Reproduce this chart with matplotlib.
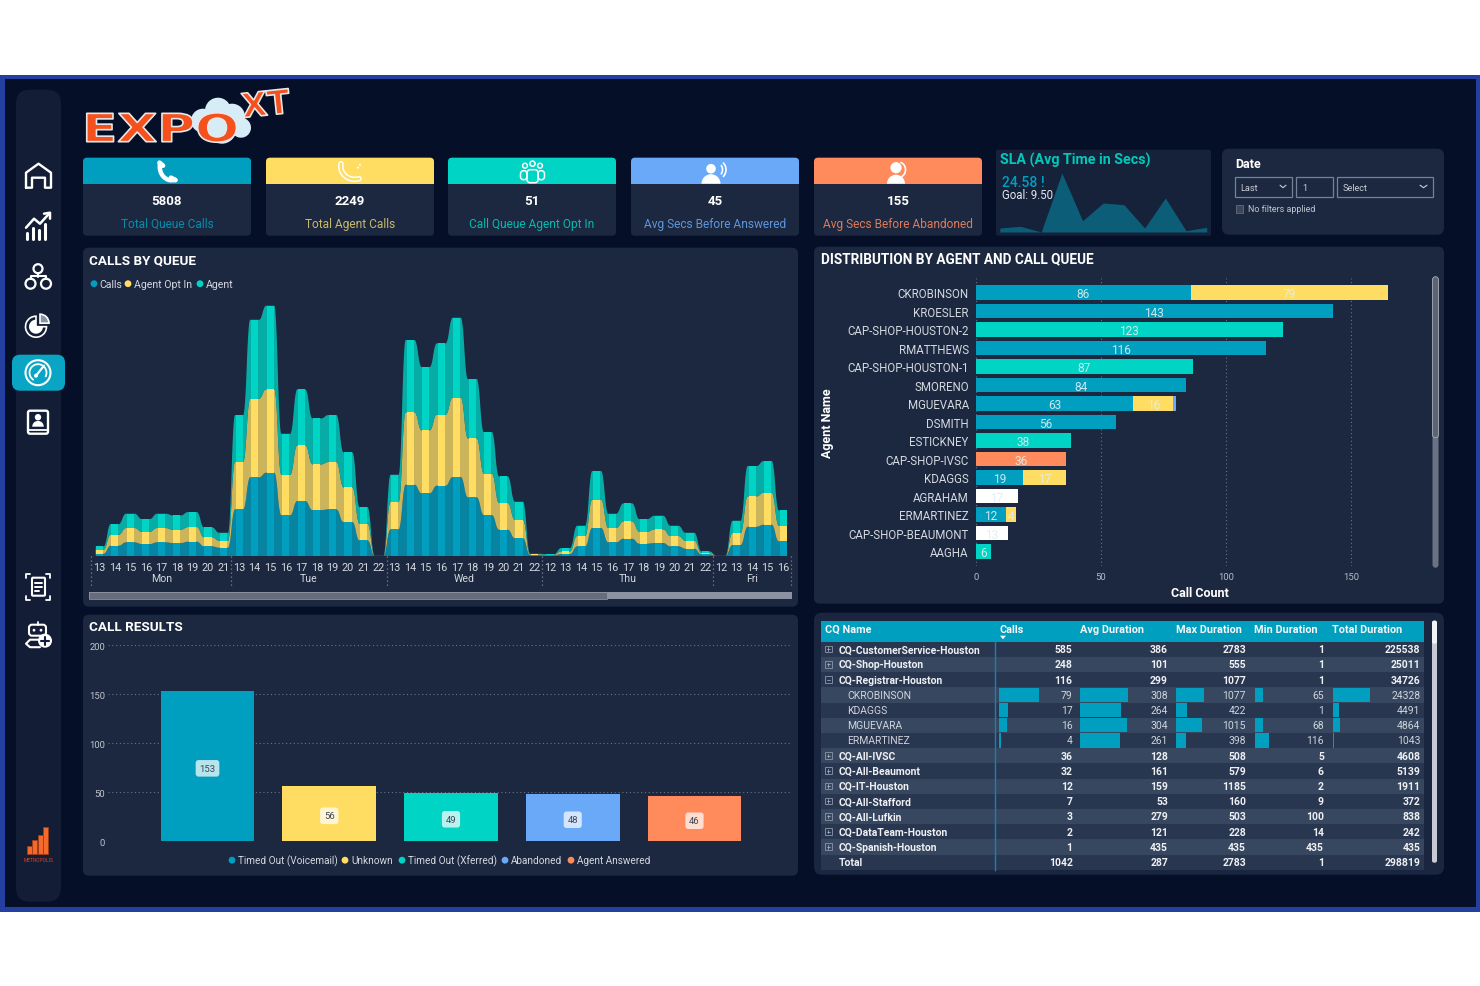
#!/usr/bin/env python3
"""Call centre dashboard: KPI cards, queue volume, agent distribution, results and queue table."""

import numpy as np
import matplotlib
matplotlib.use("Agg")
import matplotlib.pyplot as plt
import matplotlib.patheffects as pe
from matplotlib.patches import Circle, FancyBboxPatch, PathPatch, Polygon, Rectangle, Wedge, Arc
from matplotlib.path import Path
from matplotlib.transforms import Affine2D, blended_transform_factory

W, H = 1480, 987
Y_NUDGE = 0.7
FONT = "Roboto"

BLUE = "#019fbf"
YELLOW = "#ffdd63"
TEAL = "#00d4c4"
PERI = "#69a9f8"
ORANGE = "#ff8a5c"
NAVY = "#050f28"
PANEL = "#1c2840"
SIDEBAR = "#131d35"
TEXT = "#d4d9e0"

# KPI cards
kpi_values = ["5808", "2249", "51", "45", "155"]
kpi_labels = ["Total Queue Calls", "Total Agent Calls", "Call Queue Agent Opt In",
              "Avg Secs Before Answered", "Avg Secs Before Abandoned"]
kpi_colors = [BLUE, YELLOW, TEAL, PERI, ORANGE]
kpi_left = [83, 266, 448, 631, 814]

# SLA sparkline
sla_values = [4, 5.7, 0, 59, 11.3, 29, 27.3, 4, 34, 1.3, 4.7]

# Calls by queue, one entry per hour
day_names = ["Mon", "Tue", "Wed", "Thu", "Fri"]
day_hours = [[13, 14, 15, 16, 17, 18, 19, 20, 21],
             [13, 14, 15, 16, 17, 18, 19, 20, 21, 22],
             [13, 14, 15, 16, 17, 18, 19, 20, 21, 22],
             [12, 13, 14, 15, 16, 17, 18, 19, 20, 21, 22],
             [12, 13, 14, 15, 16]]
queue_calls = [8, 32, 42, 37, 42, 40, 44, 30, 26,
               141, 237, 251, 123, 166, 139, 141, 103, 48, 2,
               81, 215, 189, 212, 238, 177, 124, 80, 54, 4,
               3, 7, 30, 85, 42, 53, 38, 40, 30, 23, 6,
               2, 34, 89, 95, 45]
queue_opt_in = [12, 33, 43, 37, 43, 40, 44, 27, 21,
                142, 236, 250, 122, 167, 137, 142, 104, 50, 0,
                82, 217, 189, 213, 238, 177, 124, 80, 55, 2,
                2, 8, 31, 85, 43, 52, 36, 41, 31, 24, 4,
                0, 36, 91, 96, 47]
queue_agent = [10, 32, 43, 38, 43, 43, 45, 30, 24,
               141, 237, 251, 123, 168, 138, 141, 105, 50, 0,
               82, 217, 190, 214, 240, 178, 125, 80, 55, 2,
               2, 10, 31, 86, 43, 54, 38, 41, 31, 24, 5,
               0, 37, 91, 95, 46]

# Distribution by agent and call queue
agents = ["CKROBINSON", "KROESLER", "CAP-SHOP-HOUSTON-2", "RMATTHEWS", "CAP-SHOP-HOUSTON-1",
          "SMORENO", "MGUEVARA", "DSMITH", "ESTICKNEY", "CAP-SHOP-IVSC", "KDAGGS", "AGRAHAM",
          "ERMARTINEZ", "CAP-SHOP-BEAUMONT", "AAGHA"]
agent_blue = [86, 143, 0, 116, 0, 84, 63, 56, 0, 0, 19, 0, 12, 0, 0]
agent_yellow = [79, 0, 0, 0, 0, 0, 16, 0, 0, 0, 17, 0, 4, 0, 0]
agent_peri = [0, 0, 0, 0, 0, 0, 1, 0, 0, 0, 0, 0, 0, 0, 0]
agent_teal = [0, 0, 123, 0, 87, 0, 0, 0, 38, 0, 0, 0, 0, 0, 6]
agent_orange = [0, 0, 0, 0, 0, 0, 0, 0, 0, 36, 0, 0, 0, 0, 0]
agent_white = [0, 0, 0, 0, 0, 0, 0, 0, 0, 0, 0, 17, 0, 13, 0]

# Call results
result_names = ["Timed Out (Voicemail)", "Unknown", "Timed Out (Xferred)", "Abandoned", "Agent Answered"]
result_values = [153, 56, 49, 48, 46]
result_colors = [BLUE, YELLOW, TEAL, PERI, ORANGE]

# Queue table
table_headers = ["Calls", "Avg Duration", "Max Duration", "Min Duration", "Total Duration"]
table_names = ["CQ-CustomerService-Houston", "CQ-Shop-Houston", "CQ-Registrar-Houston", "CKROBINSON", "KDAGGS",
               "MGUEVARA", "ERMARTINEZ", "CQ-All-IVSC", "CQ-All-Beaumont", "CQ-IT-Houston", "CQ-All-Stafford",
               "CQ-All-Lufkin", "CQ-DataTeam-Houston", "CQ-Spanish-Houston", "Total"]
table_calls = [585, 248, 116, 79, 17, 16, 4, 36, 32, 12, 7, 3, 2, 1, 1042]
table_avg = [386, 101, 299, 308, 264, 304, 261, 128, 161, 159, 53, 279, 121, 435, 287]
table_max = [2783, 555, 1077, 1077, 422, 1015, 398, 508, 579, 1185, 160, 503, 228, 435, 2783]
table_min = [1, 1, 1, 65, 1, 68, 116, 5, 6, 2, 9, 100, 14, 435, 1]
table_total = [225538, 25011, 34726, 24328, 4491, 4864, 1043, 4608, 5139, 1911, 372, 838, 242, 435, 298819]

fig = plt.figure(figsize=(W / 100, H / 100), dpi=100, facecolor="white")
plt.rcParams["font.family"] = [FONT, "DejaVu Sans"]


def px_axes(x0, y0, x1, y1, zorder=2):
    ax = fig.add_axes([x0 / W, 1 - (y1 + Y_NUDGE) / H, (x1 - x0) / W, (y1 - y0) / H], zorder=zorder)
    ax.patch.set_alpha(0)
    for side in ax.spines.values():
        side.set_visible(False)
    return ax


bg = px_axes(0, 0, W, H, zorder=0)
bg.set_xlim(0, W)
bg.set_ylim(H, 0)
bg.axis("off")


def box(x0, y0, x1, y1, color, r=6, ec="none", lw=0, z=1):
    bg.add_patch(FancyBboxPatch((x0, y0), x1 - x0, y1 - y0, boxstyle=f"round,pad=0,rounding_size={r}",
                                fc=color, ec=ec, lw=lw, zorder=z))


def label(x, y, s, size=8, color=TEXT, ha="left", weight="normal", z=5, **kw):
    return bg.text(x, y, s, fontsize=size, color=color, ha=ha, va="center", fontweight=weight, zorder=z, **kw)


def stroke(points, lw=1.4, color="white", z=4):
    pts = np.array(points, dtype=float)
    bg.plot(pts[:, 0], pts[:, 1], color=color, lw=lw, zorder=z, solid_capstyle="round", solid_joinstyle="round")


def ring(x, y, r, lw=1.4, color="white", z=4):
    bg.add_patch(Circle((x, y), r, fc="none", ec=color, lw=lw, zorder=z))


def dot(x, y, r, color="white", z=4):
    bg.add_patch(Circle((x, y), r, fc=color, ec="none", zorder=z))


class WideText(pe.AbstractPathEffect):
    """Stretches a text horizontally and gives it a pale outline, for the wordmark."""

    def __init__(self, sx, edge="#e8e8e8", lw=1.2):
        super().__init__()
        self.sx, self.edge, self.lw = sx, edge, lw

    def draw_path(self, renderer, gc, tpath, affine, rgbFace=None):
        x0 = affine.get_matrix()[0, 2]
        wide = affine + Affine2D().translate(-x0, 0).scale(self.sx, 1).translate(x0, 0)
        outline = renderer.new_gc()
        outline.copy_properties(gc)
        outline.set_linewidth(self.lw)
        outline.set_foreground(self.edge)
        renderer.draw_path(outline, tpath, wide, rgbFace)
        outline.restore()


# page frame
bg.add_patch(Rectangle((0, 75), W, 837, fc="#2340a0", ec="none", zorder=0))
bg.add_patch(Rectangle((5, 79.5), W - 9, 828, fc=NAVY, ec="none", zorder=0.5))

# sidebar
box(16, 90, 61, 902, SIDEBAR, r=14)
box(12, 355, 65, 391, "#0aa5c5", r=8, z=2)

# home
stroke([(26, 188), (26, 173), (38.5, 164), (51, 173), (51, 188), (45, 188), (45, 178),
        (32, 178), (32, 188), (26, 188)], lw=1.7)
# trend
for x, h in zip((27, 33, 39, 45), (6, 11, 9, 15)):
    stroke([(x, 239), (x, 239 - h)], lw=2.2)
stroke([(26, 228), (34, 219), (40, 224), (49, 214)], lw=1.8)
stroke([(44, 214), (50, 213), (50, 219)], lw=1.8)
# org tree
ring(38, 269, 4.5, 1.6)
ring(30.5, 284, 5, 1.6)
ring(46, 284, 5, 1.6)
stroke([(38, 273.5), (38, 277)], 1.5)
stroke([(30.5, 279), (30.5, 276.5), (46, 276.5), (46, 279)], 1.5)
# pie
bg.add_patch(Wedge((36, 327), 10.5, 0, 270, fc="none", ec="white", lw=1.2, zorder=4))
bg.add_patch(Wedge((36, 327), 7, 0, 270, fc="white", ec="none", zorder=4))
bg.add_patch(Wedge((40, 323.5), 9, -90, 0, fc="#8a92a4", ec="white", lw=1.2, zorder=4))
# gauge
ring(38, 373, 12.5, 1.5)
bg.add_patch(Arc((38, 373), 17, 17, theta1=120, theta2=30, ec="white", lw=1.3, zorder=4))
stroke([(36, 376), (44, 366)], 1.6)
dot(36, 376, 2)
# contact book
box(28, 411, 48, 434, "none", r=2, ec="white", lw=1.7, z=4)
stroke([(28, 430), (48, 430)], 1.3)
dot(38, 417.5, 3.2)
bg.add_patch(Wedge((38, 427), 5.8, 180, 360, fc="white", ec="none", zorder=4))
# document scan
box(32, 578, 45, 596, "none", r=1, ec="white", lw=1.5, z=4)
stroke([(35, 583), (42, 583)], 1.4)
stroke([(35, 587), (42, 587)], 1.4)
stroke([(35, 591), (39, 591)], 1.4)
for cx, sx in ((26, 1), (50, -1)):
    stroke([(cx + 4 * sx, 574), (cx, 574), (cx, 578)], 1.3)
    stroke([(cx + 4 * sx, 600), (cx, 600), (cx, 596)], 1.3)
# robot
box(29, 625, 46, 636, "none", r=3, ec="white", lw=1.5, z=4)
dot(34, 630.5, 1.4)
dot(41, 630.5, 1.4)
stroke([(37.5, 622), (37.5, 625)], 1.3)
stroke([(42, 640), (30, 640), (26, 644), (30, 647.5), (40, 647.5)], 1.5)
dot(45, 641, 7)
stroke([(41, 641), (49, 641)], 1.5, color=SIDEBAR, z=4.5)
stroke([(45, 637), (45, 645)], 1.5, color=SIDEBAR, z=4.5)
# metropolis mark
for x, top in zip((26.5, 32, 37.5, 43), (846, 840, 835, 827)):
    bg.add_patch(Rectangle((x, top), 5, 854 - top, fc="#f4692c", ec="#a23c16", lw=0.6, zorder=4))
label(38.5, 859.5, "METROPOLIS", size=3.6, color="#d8452a", ha="center")

# wordmark
for (cx, cy, r) in ((203, 121, 12), (218, 111, 13), (232, 117, 13), (241, 128, 10), (222, 130, 14)):
    bg.add_patch(Circle((cx, cy), r, fc="#d6ecf6", ec="none", zorder=2))
bg.text(82, 142, "EXPO", fontsize=28, color="#f4511e", fontweight="bold", family="DejaVu Sans", va="baseline", zorder=3,
        path_effects=[WideText(1.33)])
bg.text(240, 118, "XT", fontsize=24, color="#f4511e", fontweight="bold", family="DejaVu Sans", va="baseline", zorder=3,
        rotation=6, path_effects=[WideText(1.0)])

# KPI cards
for x, value, name, color in zip(kpi_left, kpi_values, kpi_labels, kpi_colors):
    box(x, 158, x + 168, 236, PANEL, r=4)
    box(x, 158, x + 168, 184, color, r=4, z=1.5)
    bg.add_patch(Rectangle((x, 170), 168, 14, fc=color, ec="none", zorder=1.6))
    label(x + 84, 201, value, size=9.5, color="white", ha="center", weight="bold")
    label(x + 84, 223.5, name, size=8.6, color=color if color != YELLOW else "#e8d26e", ha="center", alpha=0.85)

# KPI icons
handset = Path([(160, 164), (158, 175), (167, 183), (175, 180)],
               [Path.MOVETO, Path.CURVE4, Path.CURVE4, Path.CURVE4])
bg.add_patch(PathPatch(handset, fc="none", ec="white", lw=3.2, zorder=4, capstyle="round"))
stroke([(159.5, 163), (163, 166)], 3.4)
stroke([(171, 178), (175.5, 180.5)], 3.4)
handset2 = Path([(341, 164), (339, 174), (349, 182), (359, 179)],
                [Path.MOVETO, Path.CURVE4, Path.CURVE4, Path.CURVE4])
bg.add_patch(PathPatch(handset2, fc="none", ec="white", lw=4, zorder=4, capstyle="round"))
bg.add_patch(PathPatch(handset2, fc="none", ec=YELLOW, lw=1.8, zorder=4.1, capstyle="round"))
dot(358, 168, 1)
dot(360, 165, 1)
for cx, cy, r in ((525, 166, 2.4), (532.5, 164, 2.6), (540, 166, 2.4)):
    ring(cx, cy, r, 1.1)
box(520.5, 171, 527, 180, "none", r=3, ec="white", lw=1.1, z=4)
box(527, 170, 538, 183, "none", r=3, ec="white", lw=1.1, z=4)
box(538, 171, 544.5, 180, "none", r=3, ec="white", lw=1.1, z=4)
dot(711, 169, 4.8)
bg.add_patch(Wedge((711, 184), 9.5, 180, 360, fc="white", ec="none", zorder=4))
bg.add_patch(Arc((717, 170), 11, 13, theta1=-50, theta2=50, ec="white", lw=1.2, zorder=4))
bg.add_patch(Arc((717, 170), 18, 19, theta1=-50, theta2=50, ec="white", lw=1.2, zorder=4))
dot(896, 168, 5.6)
bg.add_patch(Wedge((896, 184), 9, 180, 360, fc="white", ec="none", zorder=4))
bg.add_patch(Arc((899, 170), 13, 15, theta1=-80, theta2=70, ec="white", lw=1.2, zorder=4))

# SLA tile
box(996, 150, 1211, 236, "#16223a", r=2)
sla_ax = px_axes(999.8, 160, 1206.7, 232.3, zorder=2)
sla_ax.fill_between(range(len(sla_values)), sla_values, color="#0b5d78", lw=0)
sla_ax.set_xlim(0, len(sla_values) - 1)
sla_ax.set_ylim(0, 72.3)
sla_ax.axis("off")
label(999.5, 160, "SLA (Avg Time in Secs)", size=10.3, color="#00c9bb", weight="bold")
for x, y, s, size, color, weight in ((1002, 182, "24.58 !", 10, BLUE, "medium"), (1002, 194.5, "Goal: 9.50", 8.3, "#e4e6ea", "normal")):
    sla_ax.text(x, y, s, transform=bg.transData, fontsize=size, color=color, fontweight=weight, va="center", zorder=5)

# date slicer
box(1222, 149, 1444, 235, PANEL, r=7)
label(1235, 164, "Date", size=9, color="white", weight="bold")
for x0, x1, name in ((1234.5, 1291.5, "Last"), (1296, 1333, "1"), (1337, 1432.5, "Select")):
    bg.add_patch(Rectangle((x0, 177), x1 - x0, 20, fc="none", ec="#778094", lw=0.9, zorder=3))
    label(x0 + 6, 187.5, name, size=6.6, color="#c8cdd6")
stroke([(1280, 185.5), (1283, 188), (1286, 185.5)], 0.8, color="#c8cdd6")
stroke([(1420, 185.5), (1423.5, 188), (1427, 185.5)], 0.8, color="#c8cdd6")
bg.add_patch(Rectangle((1236, 205.5), 7, 8, fc="#3d4659", ec="#6f7686", lw=0.5, zorder=3))
label(1247.5, 208.7, "No filters applied", size=6.4, color="#c2c7d0")

# Calls by queue
box(83, 248, 798, 607, PANEL)
label(89, 260, "CALLS BY QUEUE", size=9.7, color="white", weight="bold")
for cx, tx, name, color in ((94, 99.5, "Calls", BLUE), (128, 134, "Agent Opt In", YELLOW), (200, 206, "Agent", TEAL)):
    dot(cx, 284, 3.4, color)
    label(tx, 284, name, size=7.6)

queue_ax = px_axes(91.2, 300, 791, 556.7, zorder=2)
hour_labels = [h for hours in day_hours for h in hours]
idx = np.arange(len(hour_labels))
grid = np.linspace(-2, len(idx) + 1, (len(idx) + 3) * 40 + 1)
kernel = np.ones(9) / 9


def plateau(values):
    # rounded step curve: one flat shelf per hour, soft shoulders between shelves
    curve = np.asarray(values, dtype=float)[np.clip(np.round(grid).astype(int), 0, len(values) - 1)]
    for _ in range(2):
        curve = np.convolve(np.pad(curve, 4, mode="edge"), kernel, mode="valid")
    return curve


keep = (grid >= -0.24) & (grid <= 44.2)
queue_ax.stackplot(grid[keep], plateau(queue_calls)[keep], plateau(queue_opt_in)[keep], plateau(queue_agent)[keep],
                   colors=[BLUE, YELLOW, TEAL], alpha=0.78, lw=0)
calls_arr, opt_arr, agent_arr = map(np.array, (queue_calls, queue_opt_in, queue_agent))
queue_ax.bar(idx, calls_arr, width=0.46, color=BLUE)
queue_ax.bar(idx, opt_arr, width=0.46, bottom=calls_arr, color=YELLOW)
queue_ax.bar(idx, agent_arr, width=0.46, bottom=calls_arr + opt_arr, color=TEAL)
queue_ax.set_xlim(-0.514, 44.5)
queue_ax.set_ylim(0, 256.7 * 3)
queue_ax.set_xticks(idx, hour_labels)
queue_ax.tick_params(axis="x", length=0, labelsize=7.8, labelcolor=TEXT, pad=4)
queue_ax.set_yticks([])

sep = blended_transform_factory(queue_ax.transData, queue_ax.transAxes)
day_edges = np.cumsum([0] + [len(h) for h in day_hours]) - 0.5
for edge in day_edges:
    queue_ax.plot([edge, edge], [0, -30 / 256.7], transform=sep, color="#7d8596", lw=0.9, ls=(0, (1, 2.2)), clip_on=False)
for name, a, b in zip(day_names, day_edges[:-1], day_edges[1:]):
    queue_ax.text((a + b) / 2, -21.6 / 256.7, name, transform=sep, ha="center", va="center", fontsize=7.6, color=TEXT)

bg.add_patch(Rectangle((89, 592), 703, 7.5, fc="#8d92a2", ec="none", zorder=3))
bg.add_patch(Rectangle((89, 592), 518, 7.5, fc="#666c7c", ec="#9298a6", lw=0.5, zorder=3.1))

# Distribution by agent
box(814, 247, 1444, 604, PANEL)
label(821, 259, "DISTRIBUTION BY AGENT AND CALL QUEUE", size=9.8, color="white", weight="bold")
dist_ax = px_axes(975.7, 278, 1420, 566)
rows = np.arange(len(agents))
left = np.zeros(len(agents))
for series, color in ((agent_blue, BLUE), (agent_yellow, YELLOW), (agent_peri, PERI), (agent_teal, TEAL),
                      (agent_orange, ORANGE), (agent_white, "white")):
    series = np.array(series)
    dist_ax.barh(rows, series, left=left, height=0.79, color=color, zorder=3)
    for r, v in enumerate(series):
        if v > 1:
            dist_ax.text(left[r] + v / 2, r + 0.07, str(v), ha="center", va="center", fontsize=8.6,
                         color="#dfeef2", alpha=0.9, zorder=4)
    left += series
dist_ax.set_xlim(0, 177.7)
dist_ax.set_ylim(14.77, -0.795)
dist_ax.set_xticks([0, 50, 100, 150])
dist_ax.set_yticks(rows, agents, va="center_baseline")
dist_ax.tick_params(axis="x", length=0, labelsize=6.8, labelcolor="#b4bac6", pad=4.5)
dist_ax.tick_params(axis="y", length=0, labelsize=8.3, labelcolor=TEXT, pad=5)
dist_ax.grid(axis="x", color="#6a7386", lw=0.8, ls=(0, (1, 2.4)), zorder=1)
dist_ax.set_axisbelow(True)
label(1200, 592.5, "Call Count", size=9, color="white", ha="center", weight="bold")
label(827, 422, "Agent Name", size=9, color="white", ha="center", weight="bold", rotation=90)
box(1432.5, 277, 1438.5, 568, "#6b7283", r=3, z=3)
box(1432.5, 277, 1438.5, 438, "#5c6373", r=3, ec="#a6abb6", lw=0.6, z=3.2)

# Call results
box(83, 615, 798, 876, PANEL)
label(89, 627, "CALL RESULTS", size=9.7, color="white", weight="bold")
res_ax = px_axes(108, 645.7, 790, 841.6)
res_pos = np.arange(len(result_values))
res_ax.bar(res_pos, result_values, width=0.77, color=result_colors, zorder=3)
for p, v in zip(res_pos, result_values):
    res_ax.text(p, v / 2 - 2, str(v), ha="center", va="center", fontsize=6.8, color="#3c4658", zorder=4,
                bbox=dict(boxstyle="round,pad=0.4,rounding_size=0.3", fc="white", ec="none", alpha=0.72))
res_ax.set_xlim((108 - 207.5) / 121.75, (790 - 207.5) / 121.75)
res_ax.set_ylim(0, 200)
res_ax.set_yticks([0, 50, 100, 150, 200])
res_ax.set_xticks([])
res_ax.tick_params(axis="y", length=0, labelsize=6.8, labelcolor="#c0c5ce", pad=2)
res_ax.grid(axis="y", color="#6a7386", lw=0.8, ls=(0, (1, 2.4)), zorder=1)
res_ax.set_axisbelow(True)
for cx, tx, name, color in zip((232, 345, 402, 505, 571), (238, 351, 408, 511, 577), result_names, result_colors):
    dot(cx, 860.5, 3.4, color)
    label(tx, 860.5, name, size=7.2)

# Queue table
box(814, 613, 1444, 875, "#1a2640", r=8)
ROW_TOP, ROW_H = 642, 15.2
for r in range(len(table_names)):
    fill = "#37475f" if r % 2 else "#283650"
    bg.add_patch(Rectangle((821, ROW_TOP + r * ROW_H), 603, ROW_H, fc=fill, ec="none", zorder=2))
bg.add_patch(Rectangle((821, 621), 603, 21.3, fc=BLUE, ec="none", zorder=2.5))
bg.plot([994.5, 994.5], [642, ROW_TOP + 15 * ROW_H], color="#1483b4", lw=1, zorder=3)
label(825, 629, "CQ Name", size=7.8, color="#f4f6f8", weight="bold")
header_x = (999, 1080, 1176, 1254.5, 1332.5)
for x, name in zip(header_x, table_headers):
    label(x, 629, name, size=7.8, color="#f4f6f8", weight="bold")
bg.add_patch(Polygon([(1000, 636), (1006, 636), (1003, 639.5)], fc="white", ec="none", zorder=4))

columns = [table_calls, table_avg, table_max, table_min, table_total]
col_right = (1072.5, 1168, 1246, 1324, 1420.5)
bar_scale = (0.51, 0.155, 0.0258, 0.125, 0.00154)
children = range(3, 7)
for r, name in enumerate(table_names):
    cy = ROW_TOP + (r + 0.5) * ROW_H
    parent = r not in children
    weight = "bold" if parent else "normal"
    if r == len(table_names) - 1:
        label(839, cy, name, size=7.5, color="#eef0f3", weight="bold")
    elif parent:
        label(839, cy, name, size=7.5, color="#eef0f3", weight="bold")
        bg.add_patch(Rectangle((825, cy - 3.5), 6.6, 6.6, fc="none", ec="#8e97a8", lw=0.6, zorder=4))
        stroke([(826.5, cy - 0.2), (830.2, cy - 0.2)], 0.5, color="#b6bdc9")
        if r != 2:
            stroke([(828.3, cy - 2), (828.3, cy + 1.6)], 0.5, color="#b6bdc9")
    else:
        label(847, cy, name, size=7.5, color="#d0d5dd")
    for values, xr in zip(columns, col_right):
        label(xr, cy, str(values[r]), size=7.5, color="#eef0f3" if parent else "#d0d5dd", ha="right", weight=weight, z=6)

for values, x0, xr, scale in zip(columns, header_x, col_right, bar_scale):
    bar_ax = px_axes(x0, ROW_TOP + 3 * ROW_H, xr, ROW_TOP + 7 * ROW_H, zorder=3)
    bar_ax.barh(list(children), [values[r] for r in children], height=0.94, color=BLUE)
    bar_ax.set_xlim(0, (xr - x0) / scale)
    bar_ax.set_ylim(6.5, 2.5)
    bar_ax.axis("off")

box(1432, 621, 1437, 863, "#c6cad2", r=2, z=3)
box(1432, 621, 1437, 644, "#f2f3f5", r=2, z=3.1)

fig.savefig("out.png", dpi=100, facecolor=fig.get_facecolor())
